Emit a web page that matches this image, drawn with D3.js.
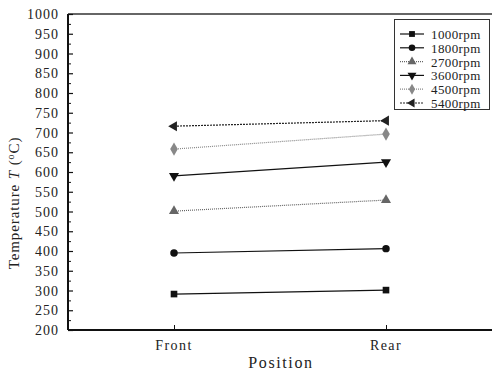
<!DOCTYPE html>
<html>
<head>
<meta charset="utf-8">
<script src="https://cdn.jsdelivr.net/npm/d3@7"></script>
<style>
  body { margin: 0; background: #fff; }
  text { font-family: "Liberation Serif", "DejaVu Serif", serif; fill: #222; }
</style>
</head>
<body>
<svg id="chart" width="492" height="372"></svg>
<script>
// data
const positions = ["Front", "Rear"];
const speeds = ["1000rpm", "1800rpm", "2700rpm", "3600rpm", "4500rpm", "5400rpm"];
const temp1000 = [291, 301];
const temp1800 = [395, 406];
const temp2700 = [501, 529];
const temp3600 = [590, 625];
const temp4500 = [658, 696];
const temp5400 = [716, 730];
const yTicks = d3.range(200, 1001, 50);

const seriesValues = [temp1000, temp1800, temp2700, temp3600, temp4500, temp5400];
const styles = [
  { sym: d3.symbolSquare, color: "#111", dash: null, rot: 0 },
  { sym: d3.symbolCircle, color: "#111", dash: null, rot: 0 },
  { sym: d3.symbolTriangle, color: "#666", dash: "1,1", rot: 0 },
  { sym: d3.symbolTriangle, color: "#111", dash: null, rot: 180 },
  { sym: d3.symbolDiamond, color: "#888", dash: "1,1", rot: 0 },
  { sym: d3.symbolTriangle, color: "#222", dash: "2,1", rot: -90 }
];

(function () {
  const svg = d3.select("#chart");
  const left = 68, right = 492, top = 14, bottom = 330;

  const x = d3.scalePoint().domain(positions).range([left, right]).padding(0.5);
  const y = d3.scaleLinear().domain([200, 1000]).range([bottom, top]);

  // frame
  svg.append("line").attr("x1", left).attr("x2", right).attr("y1", top).attr("y2", top)
    .attr("stroke", "#333").attr("stroke-width", 1.5);

  // y axis: ticks point inward
  const yAxis = svg.append("g").attr("transform", `translate(${left},0)`)
    .call(d3.axisRight(y).tickValues(yTicks).tickSize(5).tickFormat(""));
  yAxis.select(".domain").remove();
  yAxis.selectAll("line").attr("stroke", "#111").attr("stroke-width", 1.2);
  svg.append("g").attr("transform", `translate(${left},0)`)
    .call(d3.axisRight(y).tickValues(d3.range(225, 1000, 50)).tickSize(3).tickFormat(""))
    .call(g => g.select(".domain").remove())
    .selectAll("line").attr("stroke", "#111");
  svg.append("line").attr("x1", left).attr("x2", left).attr("y1", top).attr("y2", bottom)
    .attr("stroke", "#111").attr("stroke-width", 2);

  svg.append("g").selectAll("text").data(yTicks).enter().append("text")
    .attr("x", left - 9).attr("y", d => y(d) + 5)
    .attr("text-anchor", "end").attr("font-size", 14).attr("letter-spacing", 1)
    .text(d => d);

  // x axis
  const xAxis = svg.append("g").attr("transform", `translate(0,${bottom})`)
    .call(d3.axisTop(x).tickSize(5).tickFormat(""));
  xAxis.select(".domain").remove();
  xAxis.selectAll("line").attr("stroke", "#111");
  svg.append("line").attr("x1", left).attr("x2", right).attr("y1", bottom).attr("y2", bottom)
    .attr("stroke", "#111").attr("stroke-width", 2);
  svg.append("g").selectAll("text").data(positions).enter().append("text")
    .attr("x", d => x(d)).attr("y", bottom + 20)
    .attr("text-anchor", "middle").attr("font-size", 14).attr("letter-spacing", 1.4)
    .text(d => d);

  // axis titles
  svg.append("text").attr("x", 281).attr("y", 368).attr("text-anchor", "middle")
    .attr("font-size", 16).attr("letter-spacing", 1.6).text("Position");
  const yt = svg.append("text").attr("transform", "translate(19,203) rotate(-90)")
    .attr("text-anchor", "middle").attr("font-size", 15).attr("letter-spacing", 0.9);
  yt.append("tspan").text("Temperature ");
  yt.append("tspan").attr("font-style", "italic").text("T");
  yt.append("tspan").text(" (");
  yt.append("tspan").attr("font-size", 10).attr("dy", -5).text("o");
  yt.append("tspan").attr("dy", 5).text("C)");

  // series
  const line = d3.line().x((d, i) => x(positions[i])).y(d => y(d));
  seriesValues.forEach((vals, k) => {
    const st = styles[k];
    svg.append("path").datum(vals).attr("d", line)
      .attr("fill", "none").attr("stroke", st.color).attr("stroke-width", 1.2)
      .attr("stroke-dasharray", st.dash);
    svg.append("g").selectAll("path").data(vals).enter().append("path")
      .attr("d", d3.symbol().type(st.sym).size(k === 4 ? 50 : 44))
      .attr("transform", (d, i) => `translate(${x(positions[i])},${y(d)}) rotate(${st.rot})`)
      .attr("fill", st.color);
  });

  // legend
  const lg = svg.append("g");
  lg.append("rect").attr("x", 394.5).attr("y", 19.5).attr("width", 95).attr("height", 90)
    .attr("fill", "#fff").attr("stroke", "#333").attr("stroke-width", 1);
  speeds.forEach((s, k) => {
    const st = styles[k];
    const ly = 34 + k * 13.8;
    lg.append("line").attr("x1", 400).attr("x2", 424).attr("y1", ly).attr("y2", ly)
      .attr("stroke", st.color).attr("stroke-width", 1.2).attr("stroke-dasharray", st.dash);
    lg.append("path").attr("d", d3.symbol().type(st.sym).size(34))
      .attr("transform", `translate(412,${ly}) rotate(${st.rot})`).attr("fill", st.color);
    lg.append("text").attr("x", 431).attr("y", ly + 5).attr("font-size", 13)
      .attr("letter-spacing", 0.4).text(s);
  });
})();
</script>
</body>
</html>
